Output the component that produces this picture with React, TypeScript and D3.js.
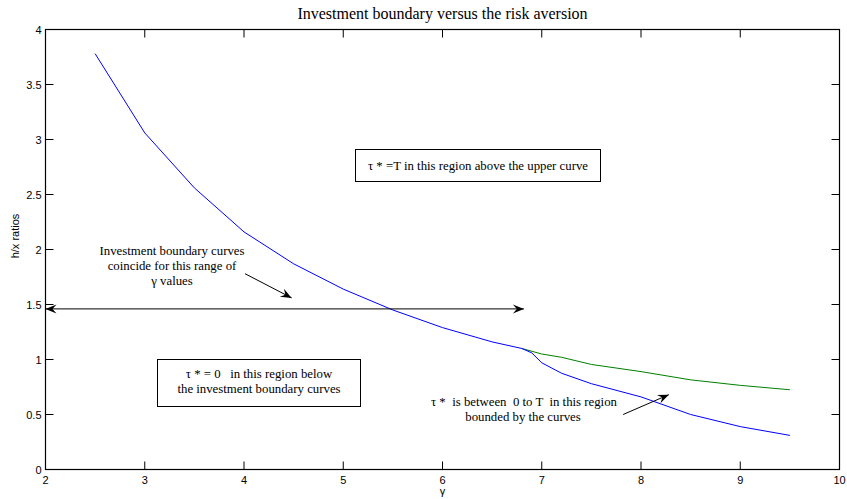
import * as d3 from 'd3';

// risk aversion values and h/x ratios
const gammaLower = [2.5, 3, 3.5, 4, 4.5, 5, 5.5, 6, 6.5, 6.8, 6.9, 7, 7.2, 7.5, 8, 8.5, 9, 9.5];
const ratioLower = [3.78, 3.06, 2.56, 2.16, 1.87, 1.64, 1.45, 1.29, 1.16, 1.1, 1.06, 0.97, 0.875, 0.78, 0.66, 0.5, 0.39, 0.31];
const gammaUpper = [6.8, 7, 7.2, 7.5, 8, 8.5, 9, 9.5];
const ratioUpper = [1.1, 1.05, 1.02, 0.955, 0.89, 0.815, 0.765, 0.725];

const xTicks = [2, 3, 4, 5, 6, 7, 8, 9, 10];
const yTicks = [0, 0.5, 1, 1.5, 2, 2.5, 3, 3.5, 4];

const W = 847;
const H = 499;
const margin = { top: 29.5, right: 7.5, bottom: 29.5, left: 45.5 };

const serif = '"Liberation Serif", "Times New Roman", serif';
const sans = '"Liberation Sans", Arial, sans-serif';

export default function App() {
  const x = d3.scaleLinear().domain([2, 10]).range([margin.left, W - margin.right]);
  const y = d3.scaleLinear().domain([0, 4]).range([H - margin.bottom, margin.top]);
  const tick = 8;
  const fs = 12.8;

  const line = d3.line<[number, number]>().x(d => x(d[0])).y(d => y(d[1]));
  const lower = line(gammaLower.map((g, i) => [g, ratioLower[i]]));
  const upper = line(gammaUpper.map((g, i) => [g, ratioUpper[i]]));

  const [x0, x1] = x.range();
  const [y0, y1] = y.range();

  return (
    <svg width={W} height={H} style={{ position: 'absolute', left: 0, top: 0, background: '#fff' }}>
      <defs>
        <marker id="head" viewBox="-12 -6 14 12" markerWidth={14} markerHeight={12} refX={0} refY={0}
          orient="auto-start-reverse" markerUnits="userSpaceOnUse">
          <path d="M0,0 L-11,-4.5 L-7,0 L-11,4.5 Z" fill="#000" />
        </marker>
      </defs>

      <text x={(x0 + x1) / 2} y={19} textAnchor="middle" fontFamily={serif} fontSize={16}>
        Investment boundary versus the risk aversion
      </text>

      {/* curves */}
      <path d={upper ?? ''} fill="none" stroke="#008000" strokeWidth={1} />
      <path d={lower ?? ''} fill="none" stroke="#0000ff" strokeWidth={1} />

      {/* axes box with inward ticks */}
      <rect x={x0} y={y1} width={x1 - x0} height={y0 - y1} fill="none" stroke="#000" strokeWidth={1.2} />
      {xTicks.map(t => (
        <g key={'x' + t}>
          <line x1={x(t)} x2={x(t)} y1={y0} y2={y0 - tick} stroke="#000" />
          <line x1={x(t)} x2={x(t)} y1={y1} y2={y1 + tick} stroke="#000" />
          <text x={x(t)} y={484} textAnchor="middle" fontFamily={sans} fontSize={11}>{t}</text>
        </g>
      ))}
      {yTicks.map(t => (
        <g key={'y' + t}>
          <line x1={x0} x2={x0 + tick} y1={y(t)} y2={y(t)} stroke="#000" />
          <line x1={x1} x2={x1 - tick} y1={y(t)} y2={y(t)} stroke="#000" />
          <text x={x0 - 4} y={y(t) + 4} textAnchor="end" fontFamily={sans} fontSize={11}>{t}</text>
        </g>
      ))}
      <text x={x(6)} y={495} textAnchor="middle" fontFamily={sans} fontSize={11}>γ</text>
      <text transform={`translate(19,236) rotate(-90)`} textAnchor="middle" fontFamily={sans} fontSize={11}>h/x ratios</text>

      {/* double arrow over the coinciding range */}
      <line x1={x(2)} y1={y(1.46)} x2={x(6.82)} y2={y(1.46)} stroke="#000" strokeWidth={1}
        markerStart="url(#head)" markerEnd="url(#head)" />

      {/* annotation: coinciding curves */}
      <text fontFamily={serif} fontSize={fs} textAnchor="middle">
        <tspan x={172} y={255}>Investment boundary curves</tspan>
        <tspan x={172} y={270}>coincide for this range of</tspan>
        <tspan x={172} y={285}>γ values</tspan>
      </text>
      <line x1={x(4.01)} y1={y(1.78)} x2={x(4.48)} y2={y(1.56)} stroke="#000" markerEnd="url(#head)" />

      {/* box: above upper curve */}
      <rect x={355.5} y={149.5} width={245} height={32} fill="#fff" stroke="#000" />
      <text x={478} y={169.5} textAnchor="middle" fontFamily={serif} fontSize={fs}>
        τ * =T in this region above the upper curve
      </text>

      {/* box: below curves */}
      <rect x={157.5} y={359.5} width={203} height={47} fill="#fff" stroke="#000" />
      <text fontFamily={serif} fontSize={fs} textAnchor="middle" style={{ whiteSpace: 'pre' }}>
        <tspan x={259} y={378}>τ * = 0   in this region below</tspan>
        <tspan x={259} y={393}>the investment boundary curves</tspan>
      </text>

      {/* annotation: between curves */}
      <text fontFamily={serif} fontSize={fs} textAnchor="middle" style={{ whiteSpace: 'pre' }}>
        <tspan x={524} y={406}>τ *  is between  0 to T  in this region</tspan>
        <tspan x={523} y={421}>bounded by the curves</tspan>
      </text>
      <line x1={x(7.82)} y1={y(0.5)} x2={x(8.28)} y2={y(0.68)} stroke="#000" markerEnd="url(#head)" />
    </svg>
  );
}
